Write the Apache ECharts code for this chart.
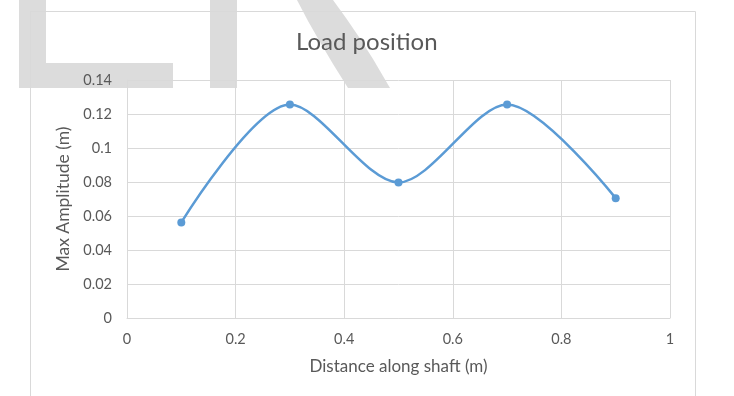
<!DOCTYPE html>
<html>
<head>
<meta charset="utf-8">
<script src="https://cdn.jsdelivr.net/npm/echarts@6/dist/echarts.min.js"></script>
<style>html,body{margin:0;padding:0;background:#fff}#c{width:734px;height:396px}</style>
</head>
<body>
<div id="c"></div>
<script>
const titleText = "Load position";
const xTitle = "Distance along shaft (m)";
const yTitle = "Max Amplitude (m)";
const xValues = [0.1, 0.3, 0.5, 0.7, 0.9];
const amplitude = [0.0562, 0.1256, 0.0797, 0.1256, 0.0705];

const chart = echarts.init(document.getElementById('c'));
const font = "Lato, 'Open Sans', sans-serif";
const wm = '#dcdcdc';
chart.setOption({
  animation: false,
  backgroundColor: 'transparent',
  graphic: [
    {type:'rect', z:-10, shape:{x:19,y:0,width:27,height:88}, style:{fill:wm}},
    {type:'rect', z:-10, shape:{x:19,y:63,width:154,height:25}, style:{fill:wm}},
    {type:'rect', z:-10, shape:{x:210,y:0,width:27,height:88}, style:{fill:wm}},
    {type:'polygon', z:-10, shape:{points:[[297,0],[333,0],[346,18],[359,37],[373,59],[390,88],[348,88],[333,64],[320,42],[308,21]]}, style:{fill:wm}},
    {type:'rect', z:-5, shape:{x:30.5,y:11.5,width:665,height:400}, style:{fill:'none', stroke:'#d9d9d9', lineWidth:1}}
  ],
  title: {
    text: titleText, left: 291, top: 25,
    textStyle: {fontFamily: font, fontSize: 24, fontWeight: 'normal', color: '#595959'}
  },
  grid: {left: 127, right: 64, top: 80, bottom: 78},
  xAxis: {
    type: 'value', min: 0, max: 1, interval: 0.2,
    name: xTitle, nameLocation: 'middle', nameGap: 40,
    nameTextStyle: {fontFamily: font, fontSize: 17, color: '#595959'},
    axisLine: {show: true, lineStyle: {color: '#d9d9d9'}},
    axisTick: {show: false},
    axisLabel: {fontFamily: font, fontSize: 14.5, color: '#595959', margin: 14},
    splitLine: {show: true, lineStyle: {color: '#d9d9d9'}}
  },
  yAxis: {
    type: 'value', min: 0, max: 0.14, interval: 0.02,
    name: yTitle, nameLocation: 'middle', nameGap: 54,
    nameTextStyle: {fontFamily: font, fontSize: 17.5, color: '#595959'},
    axisLine: {show: true, lineStyle: {color: '#d9d9d9'}},
    axisTick: {show: false},
    axisLabel: {fontFamily: font, fontSize: 14.5, color: '#595959', margin: 15,
      formatter: v => String(+v.toFixed(2))},
    splitLine: {show: true, lineStyle: {color: '#d9d9d9'}}
  },
  series: [{
    type: 'line',
    data: xValues.map((x, i) => [x, amplitude[i]]),
    smooth: 0.3,
    symbol: 'circle', symbolSize: 8,
    lineStyle: {color: '#5b9bd5', width: 2.5},
    itemStyle: {color: '#5b9bd5'}
  }]
});
</script>
</body>
</html>
